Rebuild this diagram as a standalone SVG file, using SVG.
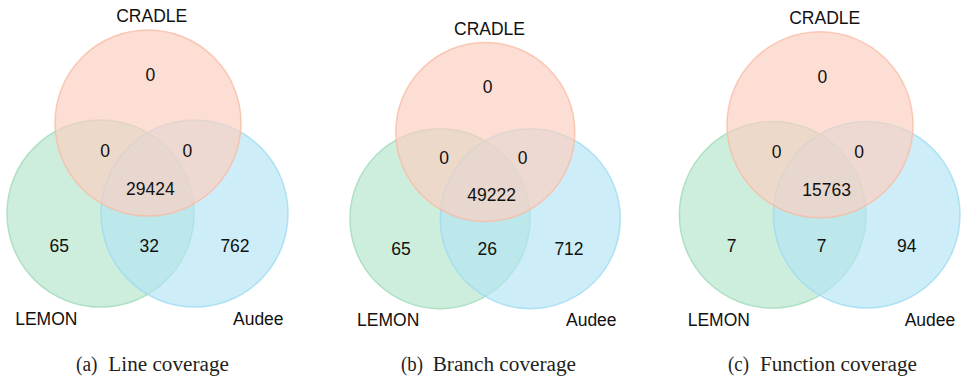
<svg xmlns="http://www.w3.org/2000/svg" width="961" height="380" viewBox="0 0 961 380">
<style>
.bg{fill:#ffffff}
.lemon{fill:#cdeedc;stroke:#aee0c5;stroke-width:1.5}
.audee{fill:#b2e5f4;fill-opacity:0.65;stroke:#9bdaf1;stroke-width:1.5;stroke-opacity:0.75}
.cradle{fill:#fcceBf;fill-opacity:0.67;stroke:#f8b9a3;stroke-width:1.5;stroke-opacity:0.75}
.lbl{font-family:"Liberation Sans",Arial,sans-serif;font-size:17.5px;fill:#111111;text-anchor:middle}
.cap{font-family:"Liberation Serif","Times New Roman",serif;font-size:20px;fill:#231f20}
</style>
<rect class="bg" x="0" y="0" width="961" height="380"/>

<g id="venn-a">
  <g id="a-lemon"><circle class="lemon" cx="100.5" cy="213.5" r="93.5"/></g>
  <g id="a-audee"><circle class="audee" cx="194.5" cy="213.5" r="93.5"/></g>
  <g id="a-cradle"><circle class="cradle" cx="148" cy="123" r="93"/></g>
  <text class="lbl" x="151.7" y="21.7">CRADLE</text>
  <text class="lbl" x="150.3" y="81">0</text>
  <text class="lbl" x="105" y="156.7">0</text>
  <text class="lbl" x="187.3" y="156.7">0</text>
  <text class="lbl" x="150.3" y="195">29424</text>
  <text class="lbl" x="59.3" y="251.7">65</text>
  <text class="lbl" x="149.3" y="251.7">32</text>
  <text class="lbl" x="235" y="251.7">762</text>
  <text class="lbl" x="46.3" y="325">LEMON</text>
  <text class="lbl" x="258.3" y="325">Audee</text>
</g>

<g id="venn-b">
  <g id="b-lemon"><circle class="lemon" cx="440" cy="218.7" r="90"/></g>
  <g id="b-audee"><circle class="audee" cx="530.3" cy="218.7" r="90"/></g>
  <g id="b-cradle"><circle class="cradle" cx="485.3" cy="132" r="89.5"/></g>
  <text class="lbl" x="489.5" y="35">CRADLE</text>
  <text class="lbl" x="487.7" y="92.7">0</text>
  <text class="lbl" x="444" y="164">0</text>
  <text class="lbl" x="522.7" y="164">0</text>
  <text class="lbl" x="491.7" y="201">49222</text>
  <text class="lbl" x="401" y="255">65</text>
  <text class="lbl" x="487.3" y="255">26</text>
  <text class="lbl" x="569" y="255">712</text>
  <text class="lbl" x="388.2" y="326">LEMON</text>
  <text class="lbl" x="591.3" y="326">Audee</text>
</g>

<g id="venn-c">
  <g id="c-lemon"><circle class="lemon" cx="772.7" cy="214.8" r="93.3"/></g>
  <g id="c-audee"><circle class="audee" cx="866.7" cy="214.8" r="93.3"/></g>
  <g id="c-cradle"><circle class="cradle" cx="820" cy="124.8" r="93"/></g>
  <text class="lbl" x="824.7" y="24">CRADLE</text>
  <text class="lbl" x="822.3" y="83.3">0</text>
  <text class="lbl" x="776.7" y="158.3">0</text>
  <text class="lbl" x="859" y="158.3">0</text>
  <text class="lbl" x="826.7" y="196">15763</text>
  <text class="lbl" x="731.7" y="252.3">7</text>
  <text class="lbl" x="821.7" y="252.3">7</text>
  <text class="lbl" x="906.7" y="252.3">94</text>
  <text class="lbl" x="718.8" y="326">LEMON</text>
  <text class="lbl" x="930" y="326">Audee</text>
</g>

<g id="connectors"></g>

<g id="captions">
  <text class="cap" x="76" y="371" textLength="21.5" lengthAdjust="spacingAndGlyphs">(a)</text>
  <text class="cap" x="108.3" y="371" textLength="120.7" lengthAdjust="spacingAndGlyphs">Line coverage</text>
  <text class="cap" x="401" y="371" textLength="22" lengthAdjust="spacingAndGlyphs">(b)</text>
  <text class="cap" x="432.7" y="371" textLength="143.3" lengthAdjust="spacingAndGlyphs">Branch coverage</text>
  <text class="cap" x="728" y="371" textLength="21" lengthAdjust="spacingAndGlyphs">(c)</text>
  <text class="cap" x="760" y="371" textLength="157" lengthAdjust="spacingAndGlyphs">Function coverage</text>
</g>
</svg>
